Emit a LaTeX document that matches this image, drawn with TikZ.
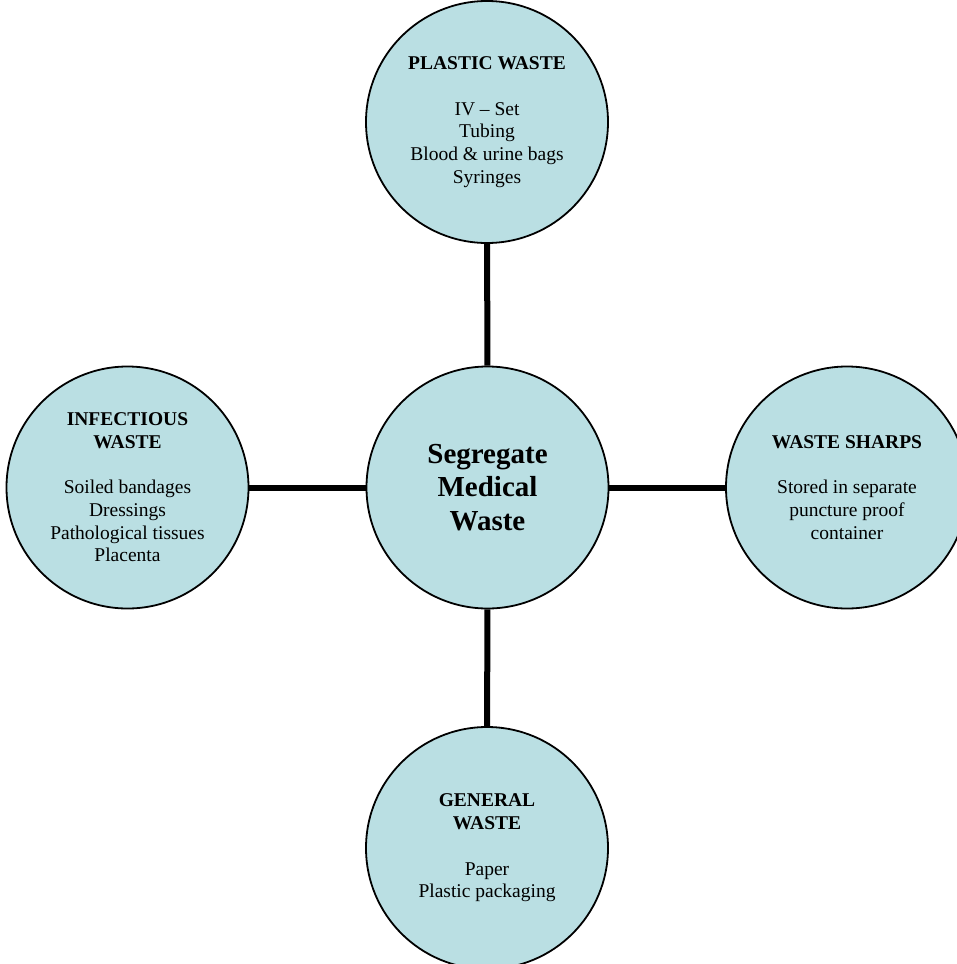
\documentclass[tikz,border=0pt]{standalone}
\usepackage{fontspec}
\setmainfont{Liberation Serif}
\definecolor{paleblue}{RGB}{186,223,227}
\begin{document}
\begin{tikzpicture}[x=1pt,y=-1pt,
  bubble/.style={circle,draw=black,line width=1.8pt,fill=paleblue,minimum size=242pt,inner sep=0pt,align=center,
    font=\fontsize{19.5pt}{22.7pt}\selectfont},
  hub/.style={bubble,font=\fontsize{29pt}{33.5pt}\selectfont\bfseries},
  link/.style={line width=6pt,draw=black}]
\useasboundingbox (0,0) rectangle (956,964);
\node[hub] (c) at (487.5,487.5) {Segregate\\Medical\\Waste};
\node[bubble] (t) at (487,122) {\textbf{PLASTIC WASTE}\\[22.7pt]IV -- Set\\Tubing\\Blood \& urine bags\\Syringes};
\node[bubble] (l) at (127.5,487.5) {\textbf{INFECTIOUS}\\\textbf{WASTE}\\[22.7pt]Soiled bandages\\Dressings\\Pathological tissues\\Placenta};
\node[bubble] (r) at (847,487.5) {\textbf{WASTE SHARPS}\\[22.7pt]Stored in separate\\puncture proof\\container};
\node[bubble] (b) at (487,848) {\textbf{GENERAL}\\\textbf{WASTE}\\[22.7pt]Paper\\Plastic packaging};
\draw[link] (c) -- (t);
\draw[link] (c) -- (l);
\draw[link] (c) -- (r);
\draw[link] (c) -- (b);
\end{tikzpicture}
\end{document}
